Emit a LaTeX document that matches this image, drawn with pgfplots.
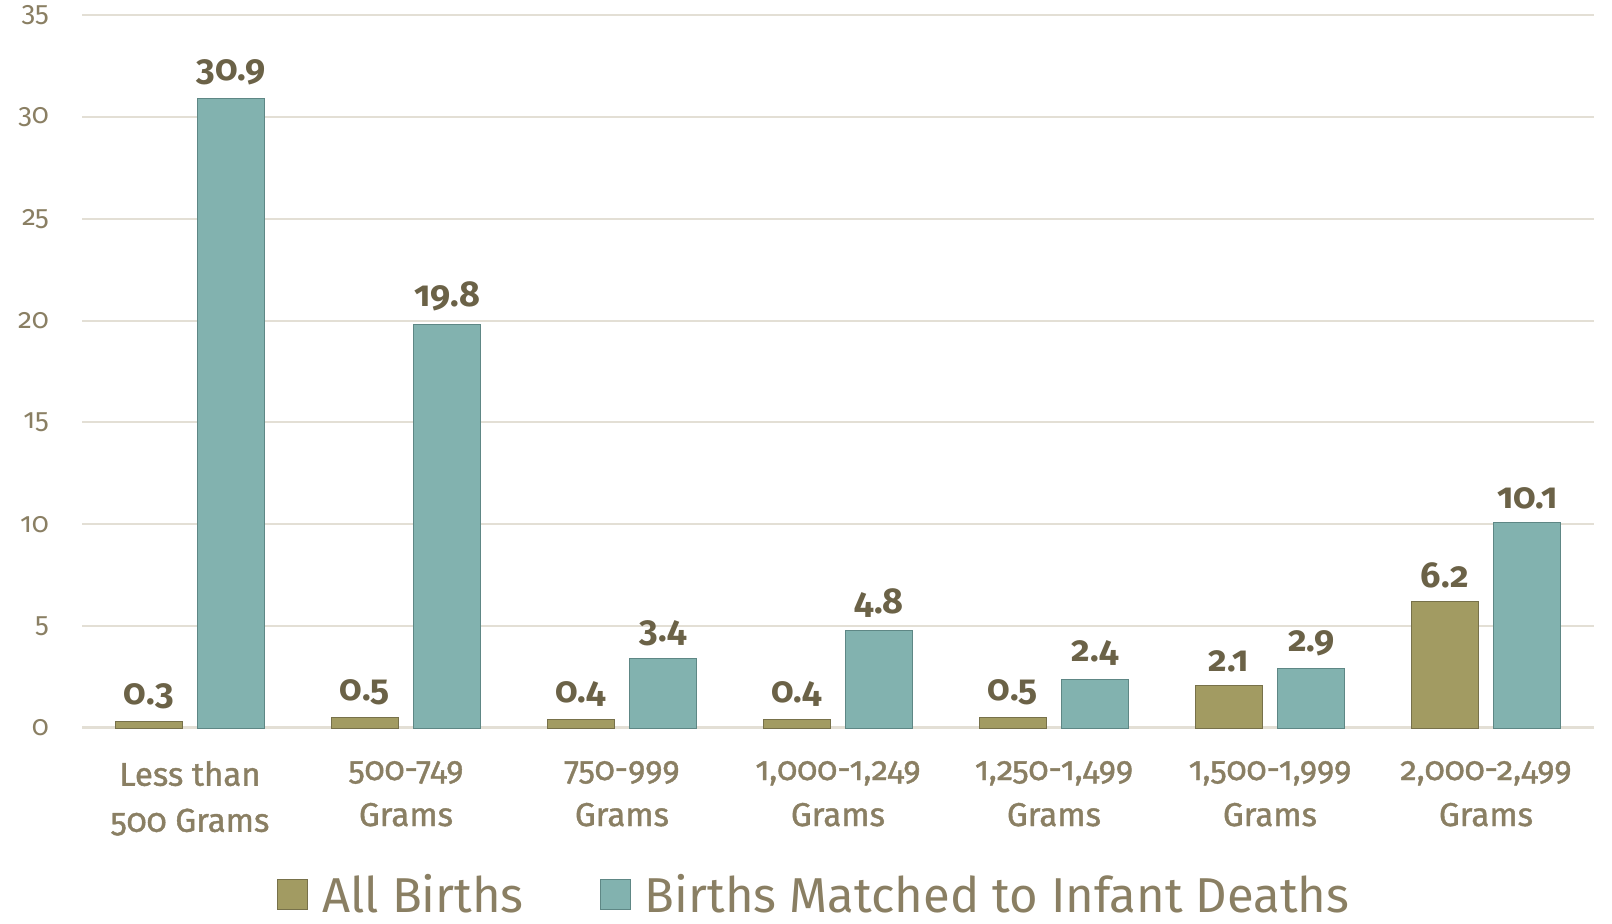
\documentclass[border=0pt]{standalone}
\usepackage{fontspec}
\setmainfont{Fira Sans}[Numbers=OldStyle]
\newfontfamily\medfont{Fira Sans}[Numbers=OldStyle, FakeBold=1.2]
\usepackage{pgfplots}
\pgfplotsset{compat=1.18}
\definecolor{olivebar}{HTML}{A29B62}
\definecolor{oliveedge}{HTML}{77714A}
\definecolor{tealbar}{HTML}{82B2AF}
\definecolor{tealedge}{HTML}{5E8785}
\definecolor{gridc}{HTML}{E3DFD5}
\definecolor{ticktxt}{HTML}{8A7F63}
\definecolor{labtxt}{HTML}{6B6247}

\begin{document}
\begin{tikzpicture}
\useasboundingbox (0,0) rectangle (806pt,461.5pt);
\begin{axis}[
  at={(41pt,97.5pt)}, anchor=south west,
  width=756pt, height=356.5pt, scale only axis,
  xmin=-0.5, xmax=6.5, ymin=0, ymax=35,
  axis line style={draw=none},
  ytick={0,5,...,35},
  xtick={0,...,6},
  xticklabels={{Less than\\500 Grams},{500-749\\Grams},{750-999\\Grams},{1,000-1,249\\Grams},{1,250-1,499\\Grams},{1,500-1,999\\Grams},{2,000-2,499\\Grams}},
  major tick length=0pt,
  ymajorgrids,
  grid style={gridc, line width=1pt},
  /pgf/number format/assume math mode=true,
  yticklabel style={font=\fontsize{14}{16}\selectfont, text=ticktxt, anchor=east, xshift=-13pt},
  xticklabel style={font=\medfont\fontsize{16.5}{23}\selectfont, text=ticktxt, align=center, anchor=north, yshift=-13pt},
  ybar, bar width=33.5pt,
  nodes near coords,
  every node near coord/.append style={font=\fontsize{18}{20}\selectfont\bfseries, text=labtxt, yshift=3pt,
    /pgf/number format/fixed, /pgf/number format/fixed zerofill, /pgf/number format/precision=1},
  legend columns=2,
  legend style={draw=none, fill=none, at={(0.485,-0.234)}, anchor=center,
    font=\fontsize{24.5}{28}\selectfont, text=ticktxt,
    /tikz/every even column/.append style={column sep=36pt}},
  legend image code/.code={\draw[#1] (0pt,-7.5pt) rectangle (15pt,7.5pt);},
]
\draw[gridc, line width=1.6pt] (axis cs:-0.5,0) -- (axis cs:6.5,0);
\addplot[fill=olivebar, draw=oliveedge, line width=0.5pt, bar shift=-20.6pt]
  coordinates {(0,0.3)(1,0.5)(2,0.4)(3,0.4)(4,0.5)(5,2.1)(6,6.2)};
\addlegendentry{\hspace{5pt}All Births}
\addplot[fill=tealbar, draw=tealedge, line width=0.5pt, bar shift=20.6pt]
  coordinates {(0,30.9)(1,19.8)(2,3.4)(3,4.8)(4,2.4)(5,2.9)(6,10.1)};
\addlegendentry{\hspace{5pt}Births Matched to Infant Deaths}
\end{axis}
\end{tikzpicture}
\end{document}
